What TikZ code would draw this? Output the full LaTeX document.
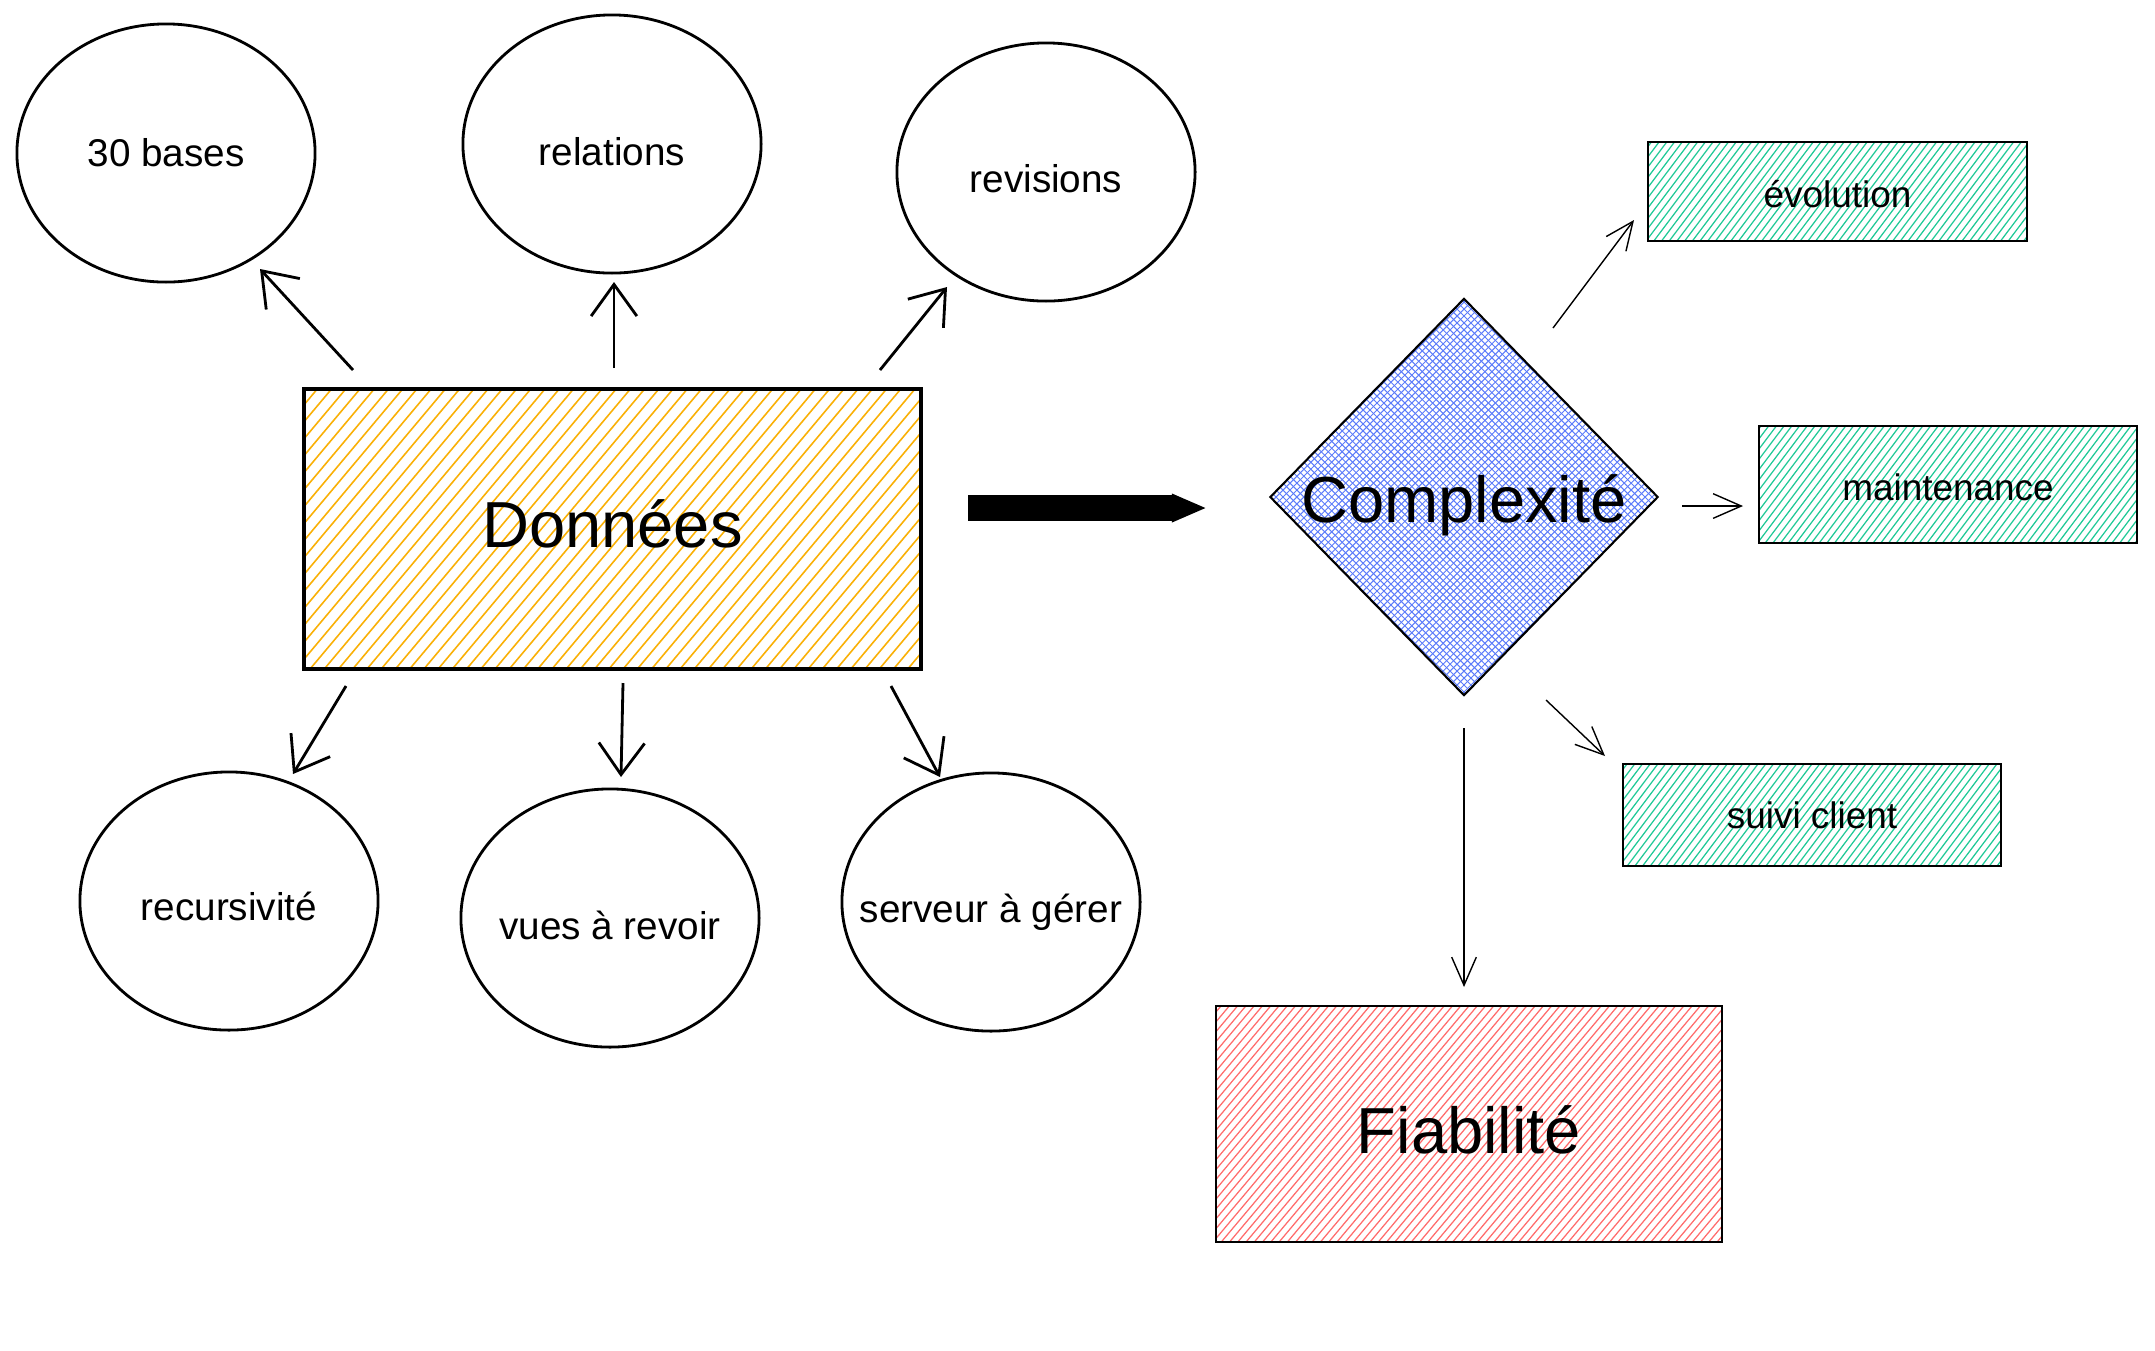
\documentclass[tikz,border=0pt]{standalone}
\usepackage{fontspec}
\setmainfont{Liberation Sans}
\usetikzlibrary{shapes.geometric,arrows.meta,calc}
\definecolor{hyellow}{HTML}{FAB005}
\definecolor{hgreen}{HTML}{20C997}
\definecolor{hred}{HTML}{FF6B6B}
\definecolor{hblue}{HTML}{5C7CFA}
\newcommand\hatchlines[4]{%
  \foreach \k in {-#4,...,#4}{\draw[#1]
    ($(path picture bounding box.center)+(#2+90:{\k*#3})+(#2:5cm)$) --
    ($(path picture bounding box.center)+(#2+90:{\k*#3})-(#2:5cm)$);}}
\newcommand\mv[2]{\raisebox{#1}[\height][\depth]{#2}}
\tikzset{
  ell/.style={ellipse, draw, line width=0.8pt, minimum width=2.98cm, minimum height=2.58cm, inner xsep=-0.5cm, inner ysep=0pt, font=\fontsize{11}{13}\selectfont},
  ybox/.style={rectangle, draw, line width=1pt, inner sep=0pt, font=\fontsize{18.5}{22}\selectfont,
    path picture={\hatchlines{hyellow,line width=0.45pt}{50}{3.1pt}{40}}},
  gbox/.style={rectangle, draw, line width=0.6pt, inner sep=0pt, minimum width=3.78cm, font=\fontsize{10.5}{13}\selectfont,
    path picture={\hatchlines{hgreen,line width=0.35pt}{53}{1.75pt}{40}}},
  rbox/.style={rectangle, draw, line width=0.6pt, inner sep=0pt, font=\fontsize{18.5}{22}\selectfont,
    path picture={\hatchlines{hred,line width=0.35pt}{50}{1.8pt}{55}}},
  bdia/.style={diamond, draw, line width=0.6pt, inner sep=0pt, font=\fontsize{18.5}{22}\selectfont,
    path picture={\hatchlines{hblue,line width=0.28pt}{45}{1.4pt}{65}\hatchlines{hblue,line width=0.28pt}{135}{1.4pt}{65}}},
  thickarr/.style={line width=0.8pt, -{Straight Barb[length=9pt,width=13pt,line width=0.8pt]}},
  thinarr/.style={line width=0.4pt, -{Straight Barb[length=8pt,width=7pt,line width=0.4pt]}},
}
\begin{document}
\begin{tikzpicture}[x=0.01cm, y=-0.01cm]
\useasboundingbox[fill=white] (0,0) rectangle (2155,1350);

% central data box
\node[ybox, minimum width=6.17cm, minimum height=2.80cm] (don) at (612.5,529) {\mv{1.6pt}{Données}};

% ellipses
\node[ell] (e1) at (166,153) {30 bases};
\node[ell] (e2) at (612,144) {\mv{-2.2pt}{relations}};
\node[ell] (e3) at (1046,172) {\mv{-2pt}{revisions}};
\node[ell] (e4) at (229,901) {\mv{-1.6pt}{recursivité}};
\node[ell] (e5) at (610,918) {\mv{-2pt}{vues à revoir}};
\node[ell] (e6) at (991,902) {\mv{-3pt}{serveur à gérer}};

% complexity diamond
\node[bdia, minimum width=3.88cm, minimum height=3.97cm] (cx) at (1464,497) {\mv{-2.3pt}{Complexité}};

% right boxes
\node[gbox, minimum width=3.79cm, minimum height=0.99cm] (g1) at (1837.5,191.5) {\mv{-0.7pt}{évolution}};
\node[gbox, minimum height=1.17cm] (g2) at (1948,484.5) {\mv{-0.7pt}{maintenance}};
\node[gbox, minimum height=1.02cm] (g3) at (1812,815) {suivi client};
\node[rbox, minimum width=5.06cm, minimum height=2.36cm] (fia) at (1469,1124) {\mv{-1.6pt}{Fiabilité}};

% connector end points
\coordinate (a1s) at (353,370); \coordinate (a1e) at (260,269);
\coordinate (a2s) at (614,368); \coordinate (a2e) at (614,282);
\coordinate (a3s) at (880,370); \coordinate (a3e) at (947,287);
\coordinate (a4s) at (346,686); \coordinate (a4e) at (293,774);
\coordinate (a5s) at (623,683); \coordinate (a5e) at (621,777);
\coordinate (a6s) at (891,686); \coordinate (a6e) at (940,777);
\coordinate (b1s) at (1553,328); \coordinate (b1e) at (1634,220);
\coordinate (b2s) at (1682,506); \coordinate (b2e) at (1743,506);
\coordinate (b3s) at (1546,700); \coordinate (b3e) at (1605,756);
\coordinate (b4s) at (1464,728); \coordinate (b4e) at (1464,987);
\coordinate (bas) at (968,508); \coordinate (bae) at (1207,508);

\draw[thickarr] (a1s) -- (a1e);
\draw[thickarr] (a2s) -- (a2e);
\draw[thickarr] (a3s) -- (a3e);
\draw[thickarr] (a4s) -- (a4e);
\draw[thickarr] (a5s) -- (a5e);
\draw[thickarr] (a6s) -- (a6e);

\draw[thinarr] (b1s) -- (b1e);
\draw[thinarr] (b2s) -- (b2e);
\draw[thinarr] (b3s) -- (b3e);
\draw[thinarr] (b4s) -- (b4e);

% big arrow from data to complexity
\draw[line width=0.26cm, -{Triangle[length=0.35cm,width=0.26cm]}] (bas) -- (bae);
\end{tikzpicture}
\end{document}
